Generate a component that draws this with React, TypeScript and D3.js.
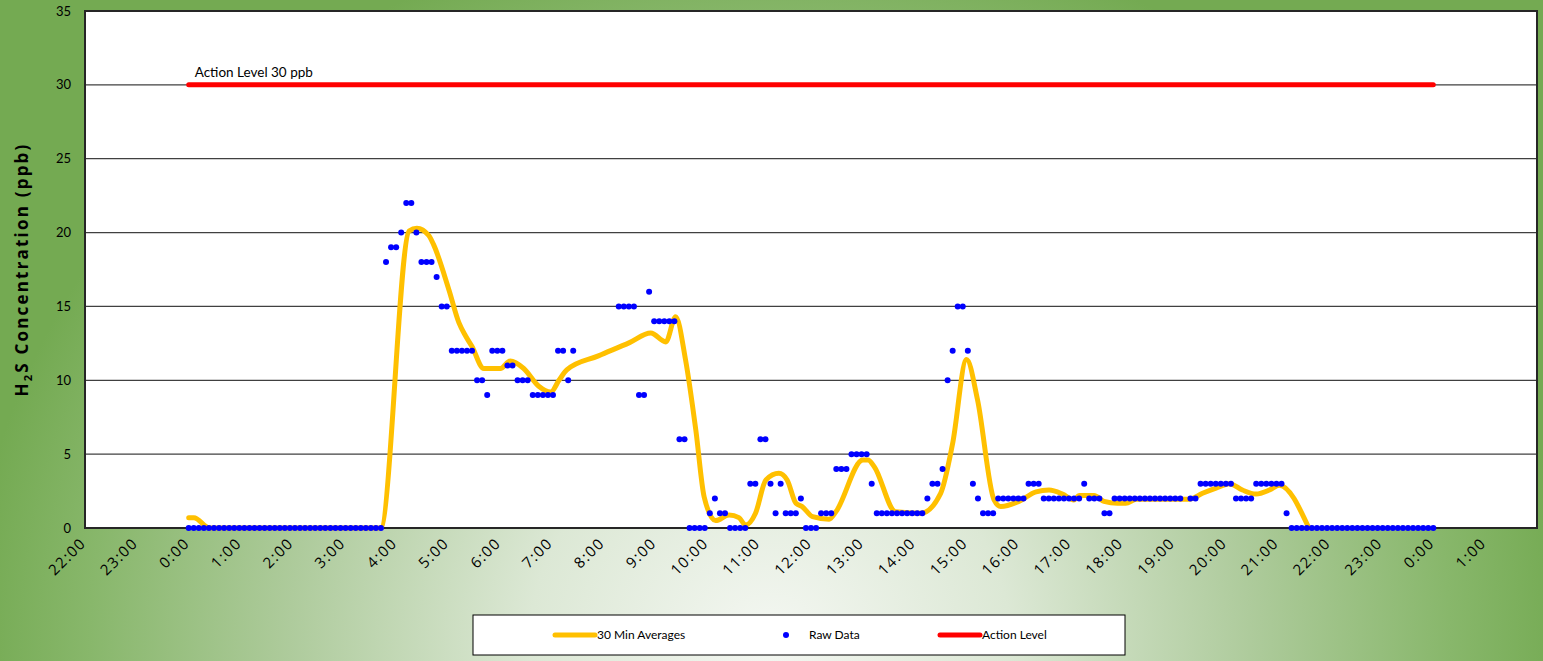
import React from "react";
import * as d3 from "d3";

const W = 1543;
const H = 661;
const plot = { left: 85, right: 1537, top: 11, bottom: 528 };

// x axis tick labels, one per hour starting at 22:00 the day before
const tickLabels = [
  "22:00", "23:00", "0:00", "1:00", "2:00", "3:00", "4:00", "5:00", "6:00", "7:00",
  "8:00", "9:00", "10:00", "11:00", "12:00", "13:00", "14:00", "15:00", "16:00", "17:00",
  "18:00", "19:00", "20:00", "21:00", "22:00", "23:00", "0:00", "1:00",
];
const yTicks = [0, 5, 10, 15, 20, 25, 30, 35];

// raw readings, evenly spaced from 0:00 to 24:00 (null = no reading)
const rawValues: (number | null)[] = [
  0, 0, 0, 0, 0, 0, 0, 0, 0, 0, 0, 0, 0, 0, 0, 0, 0, 0, 0, 0,
  0, 0, 0, 0, 0, 0, 0, 0, 0, 0, 0, 0, 0, 0, 0, 0, 0, 0, 0,
  18, 19, 19, 20, 22, 22, 20, 18, 18, 18, 17, 15, 15, 12, 12, 12, 12, 12, 10, 10,
  9, 12, 12, 12, 11, 11, 10, 10, 10, 9, 9, 9, 9, 9, 12, 12, 10, 12,
  null, null, null, null, null, null, null, null,
  15, 15, 15, 15, 9, 9, 16, 14, 14, 14, 14, 14,
  6, 6, 0, 0, 0, 0, 1, 2, 1, 1, 0, 0, 0, 0, 3, 3, 6, 6, 3, 1, 3, 1, 1, 1, 2, 0, 0, 0,
  1, 1, 1, 4, 4, 4, 5, 5, 5, 5, 3, 1, 1, 1, 1, 1, 1, 1, 1, 1, 1, 2, 3, 3, 4,
  10, 12, 15, 15, 12, 3, 2, 1, 1, 1, 2, 2, 2, 2, 2, 2, 3, 3, 3,
  2, 2, 2, 2, 2, 2, 2, 2, 3, 2, 2, 2, 1, 1,
  2, 2, 2, 2, 2, 2, 2, 2, 2, 2, 2, 2, 2, 2, null, 2, 2,
  3, 3, 3, 3, 3, 3, 3, 2, 2, 2, 2, 3, 3, 3, 3, 3, 3, 1,
  0, 0, 0, 0, 0, 0, 0, 0, 0, 0, 0, 0, 0, 0, 0, 0, 0, 0, 0, 0,
  0, 0, 0, 0, 0, 0, 0, 0, 0,
];

// 30 minute averages (hour of day, ppb)
const avgHours = [
  0, 0.1, 0.4, 3.7, 4.25, 4.4, 4.63, 4.72, 5.02, 5.21, 5.34, 5.46, 5.69, 6.01, 6.2,
  6.46, 6.75, 6.98, 7.14, 7.29, 7.9, 8.5, 8.91, 9.2, 9.39, 9.58, 9.78, 9.94, 10.16, 10.42,
  10.61, 10.74, 10.93, 11.13, 11.38, 11.54, 11.71, 11.83, 12.03, 12.35, 12.48, 13.0,
  13.1, 13.22, 13.63, 14.12, 14.5, 14.73, 15.0, 15.21, 15.53, 15.66, 16.01, 16.34,
  16.59, 16.85, 17.07, 17.17, 17.46, 17.65, 17.91, 18.07, 18.27, 19.29, 19.55, 19.81,
  20.07, 20.32, 20.58, 20.84, 21.03, 21.6,
];
const avgValues = [
  0.7, 0.7, 0, 0, 20.1, 20.3, 19.8, 19.2, 16.1, 13.9, 13.0, 12.3, 10.8, 10.8, 11.3,
  10.8, 9.6, 9.2, 10.0, 10.7, 11.65, 12.55, 13.2, 12.6, 14.3, 11.4, 6.6, 2.1, 0.5, 0.88,
  0.7, 0.2, 1.0, 3.25, 3.7, 3.25, 1.67, 1.45, 0.77, 0.6, 1.1, 4.6,
  4.6, 4.15, 1.1, 1.0, 2.35, 5.7, 11.4, 8.7, 1.9, 1.45, 1.8, 2.45,
  2.57, 2.3, 1.9, 2.2, 2.2, 1.8, 1.67, 1.67, 1.94, 1.94, 2.35, 2.7,
  3.0, 2.57, 2.3, 2.57, 2.9, 0,
];

const actionLevel = 30;
const actionHours = [0, 24];

const font = "Lato, 'Open Sans', sans-serif";

export default function App() {
  const x = d3.scaleLinear().domain([-2, 26]).range([plot.left, plot.right]);
  const y = d3.scaleLinear().domain([0, 35]).range([plot.bottom, plot.top]);

  const rawStep = 24 / (rawValues.length - 1);
  const raw = rawValues
    .map((v, i) => ({ h: i * rawStep, v }))
    .filter((d) => d.v !== null) as { h: number; v: number }[];

  const avg = avgHours.map((h, i) => ({ h, v: avgValues[i] }));
  const avgLine = d3
    .line<{ h: number; v: number }>()
    .x((d) => x(d.h))
    .y((d) => y(d.v))
    .curve(d3.curveMonotoneX);

  return (
    <svg
      width={W}
      height={H}
      style={{ position: "absolute", left: 0, top: 0, display: "block" }}
      fontFamily={font}
    >
      <defs>
        <radialGradient
          id="bg"
          gradientUnits="userSpaceOnUse"
          cx={770}
          cy={640}
          r={800}
          gradientTransform="translate(770 640) scale(1 0.9) translate(-770 -640)"
        >
          <stop offset="0" stopColor="#F4F7F2" />
          <stop offset="0.3" stopColor="#DCE8D5" />
          <stop offset="0.6" stopColor="#AECB9C" />
          <stop offset="0.85" stopColor="#88B76B" />
          <stop offset="1" stopColor="#74AA52" />
        </radialGradient>
      </defs>
      <rect width={W} height={H} fill="url(#bg)" />

      <rect
        x={plot.left}
        y={plot.top}
        width={plot.right - plot.left}
        height={plot.bottom - plot.top}
        fill="#fff"
      />

      {yTicks.map((t) => (
        <g key={t}>
          {t > 0 && t < 35 && (
            <line x1={plot.left} x2={plot.right} y1={y(t)} y2={y(t)} stroke="#404040" strokeWidth={1.3} />
          )}
          <text x={71} y={y(t)} dy="0.35em" textAnchor="end" fontSize={13} fill="#000">
            {t}
          </text>
        </g>
      ))}

      <rect
        x={plot.left}
        y={plot.top}
        width={plot.right - plot.left}
        height={plot.bottom - plot.top}
        fill="none"
        stroke="#262626"
        strokeWidth={2}
      />

      {tickLabels.map((lab, i) => (
        <text
          key={i}
          transform={`translate(${x(i - 2) + 2},${plot.bottom + 16}) rotate(-45)`}
          textAnchor="end"
          fontFamily="'Open Sans', sans-serif"
          fontSize={15}
          letterSpacing={1.5}
          fill="#000"
        >
          {lab}
        </text>
      ))}

      <text
        transform={`translate(28,${(plot.top + plot.bottom) / 2}) rotate(-90)`}
        textAnchor="middle"
        fontFamily="'Open Sans', sans-serif"
        fontSize={17}
        fontWeight="bold"
        letterSpacing={2.2}
        fill="#000"
      >
        H<tspan fontSize={11} dy={4}>2</tspan>
        <tspan dy={-4}>S Concentration (ppb)</tspan>
      </text>

      <line
        x1={x(actionHours[0])}
        x2={x(actionHours[1])}
        y1={y(actionLevel)}
        y2={y(actionLevel)}
        stroke="#FF0000"
        strokeWidth={5}
        strokeLinecap="round"
      />
      <text x={x(actionHours[0]) + 6} y={y(actionLevel) - 8} fontSize={13.5} fill="#000">
        Action Level 30 ppb
      </text>

      <path d={avgLine(avg) ?? ""} fill="none" stroke="#FFC000" strokeWidth={5} strokeLinejoin="round" strokeLinecap="round" />

      {raw.map((d, i) => (
        <circle key={i} cx={x(d.h)} cy={y(d.v)} r={3} fill="#0000FF" />
      ))}

      <g transform="translate(473,615)">
        <rect x={0} y={0} width={652} height={40} fill="#fff" stroke="#000" strokeWidth={1} />
        <line x1={82} x2={122} y1={20} y2={20} stroke="#FFC000" strokeWidth={5} strokeLinecap="round" />
        <text x={124} y={20} dy="0.35em" fontSize={12} fill="#000">30 Min Averages</text>
        <circle cx={313} cy={20} r={3} fill="#0000FF" />
        <text x={336} y={20} dy="0.35em" fontSize={12} fill="#000">Raw Data</text>
        <line x1={467} x2={507} y1={20} y2={20} stroke="#FF0000" strokeWidth={5} strokeLinecap="round" />
        <text x={509} y={20} dy="0.35em" fontSize={12} fill="#000">Action Level</text>
      </g>
    </svg>
  );
}
